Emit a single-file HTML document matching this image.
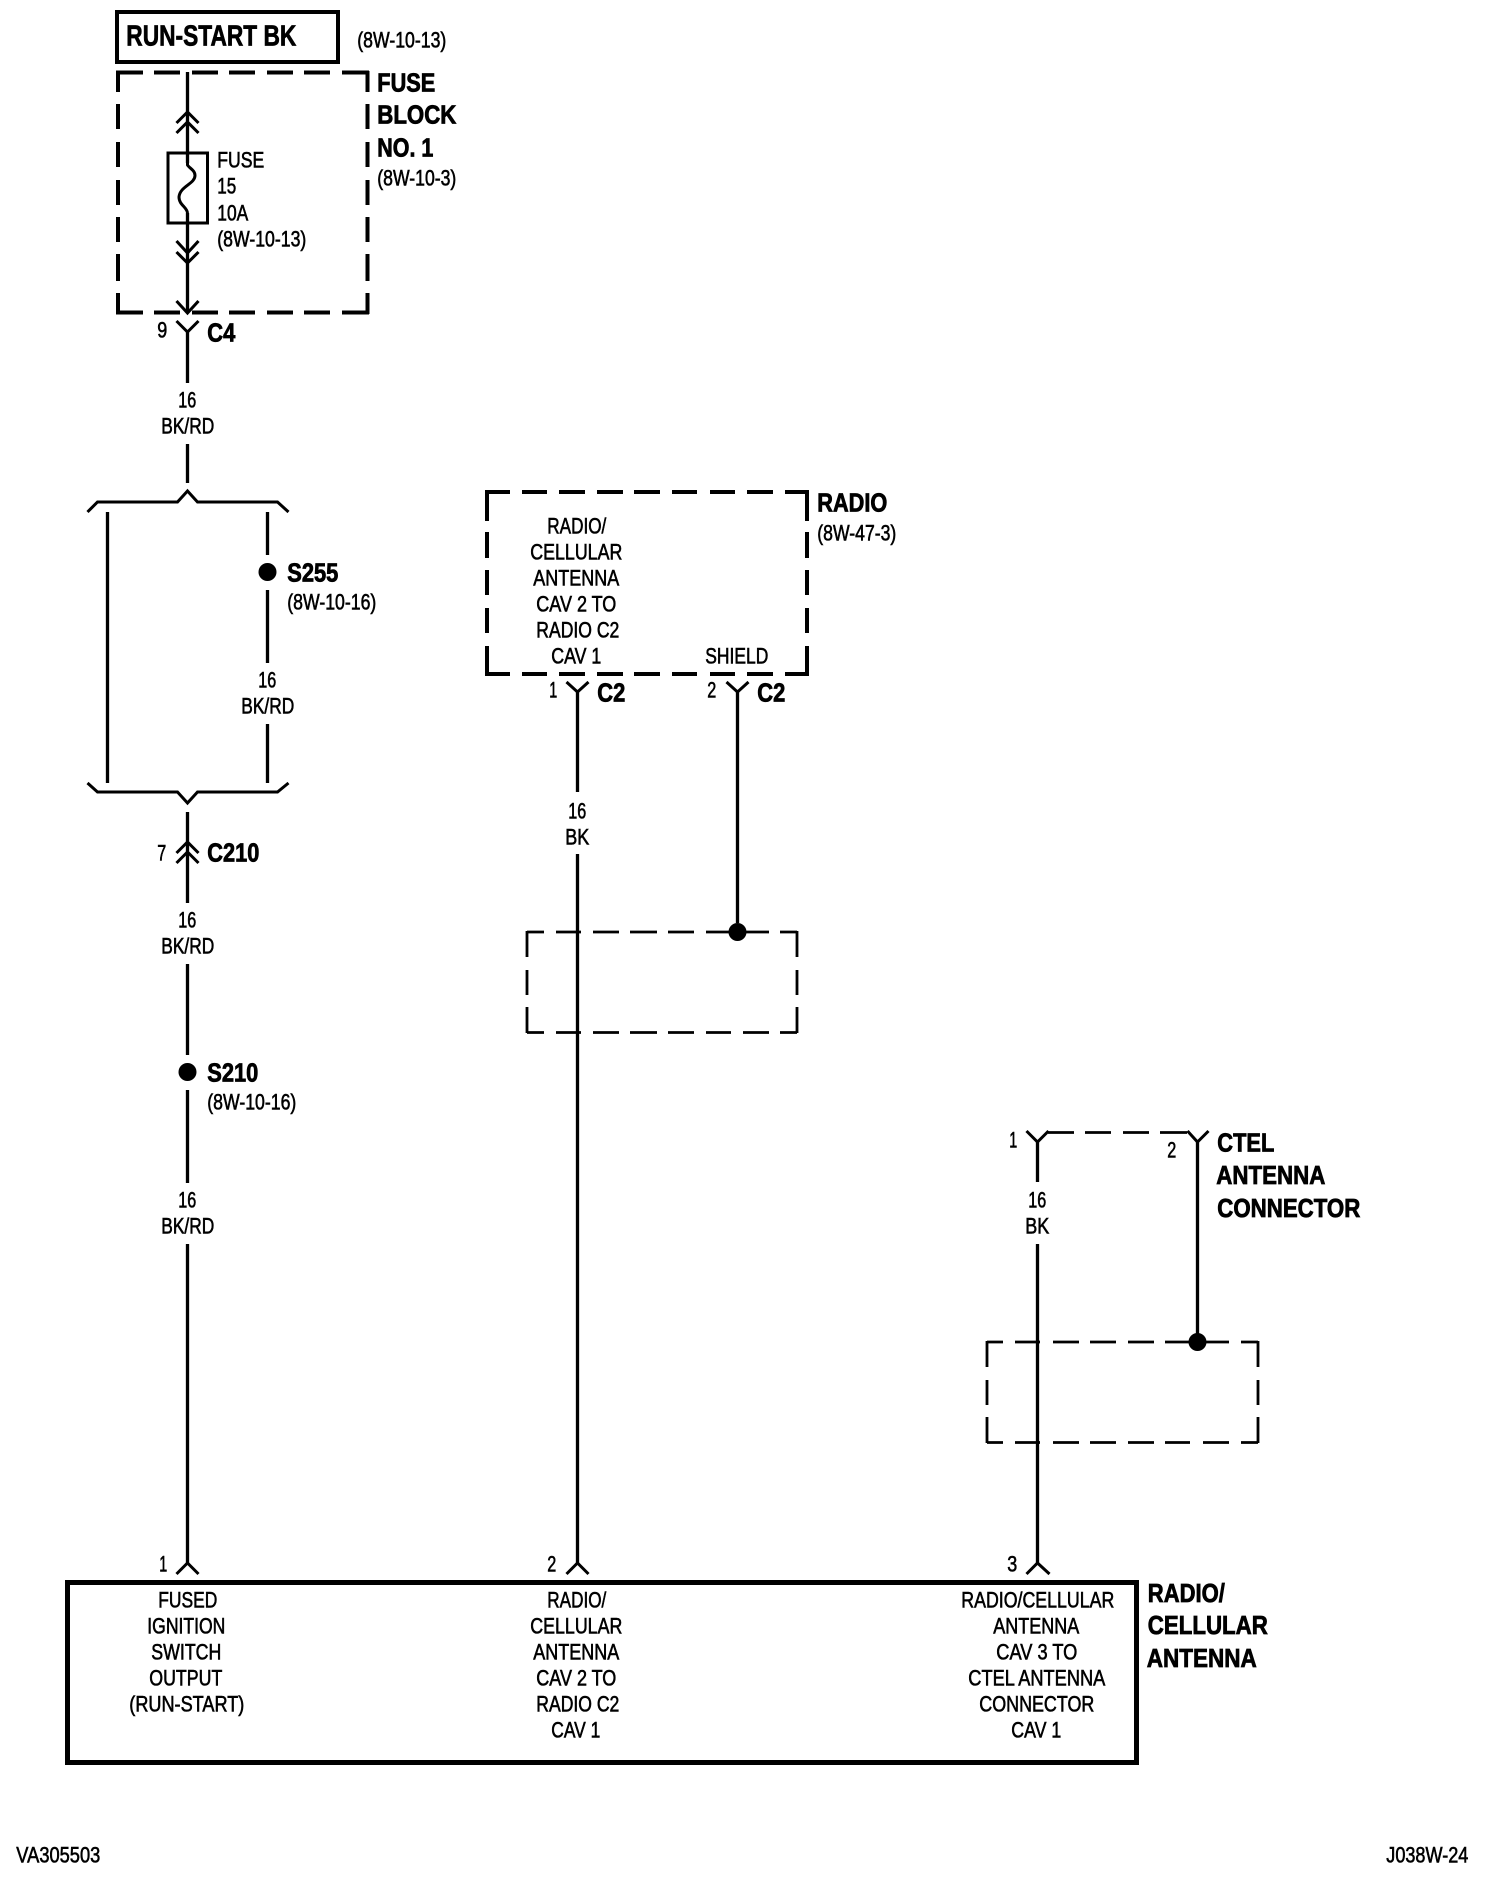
<!DOCTYPE html>
<html><head><meta charset="utf-8"><style>
html,body{margin:0;padding:0;background:#fff}
svg{display:block}
text{font-family:"Liberation Sans",sans-serif;fill:#000}
.r{font-size:22px;stroke:#000;stroke-width:.6}
.b{font-size:26px;font-weight:700;stroke:#000;stroke-width:.8}
.h{font-size:29px;font-weight:700;stroke:#000;stroke-width:.7}
.w{fill:none;stroke:#000;stroke-width:3.3}
.c{fill:none;stroke:#000;stroke-width:3}
.d{fill:none;stroke:#000;stroke-width:4}
.t{fill:none;stroke:#000;stroke-width:2.8}
</style></head><body>
<svg width="1504" height="1878" viewBox="0 0 1504 1878" xmlns="http://www.w3.org/2000/svg">
<rect width="1504" height="1878" fill="#fff"/>
<rect x="117" y="12" width="221" height="50" class="d"/>
<rect x="67.5" y="1582.5" width="1069" height="180" fill="none" stroke="#000" stroke-width="5"/>

<!-- fuse block dashed -->
<path class="d" d="M116 72.5H143M154 72.5H180M192 72.5H218M229 72.5H255M267 72.5H293M304 72.5H330M342 72.5H369
M116 312.5H143M154 312.5H180M192 312.5H218M229 312.5H255M267 312.5H293M304 312.5H330M342 312.5H369
M118 71V92M118 104V129M118 142V167M118 180V205M118 217V242M118 254V281M118 293V314
M367.5 71V92M367.5 104V129M367.5 142V167M367.5 180V205M367.5 217V242M367.5 254V281M367.5 293V314"/>
<!-- radio dashed -->
<path class="d" d="M485 492H510M522 492H547M559 492H585M597 492H623M634 492H660M672 492H697M710 492H735M747 492H773M785 492H809
M485 674H510M522 674H547M559 674H585M597 674H623M634 674H660M672 674H697M710 674H735M747 674H773M785 674H809
M487 490V521M487 532V558M487 570V595M487 608V633M487 646V676
M807 490V521M807 532V558M807 570V595M807 608V633M807 646V676"/>
<!-- shield boxes -->
<path class="t" d="M527 932H544M556 932H581M593 932H619M630 932H657M668 932H694M706 932H731M743 932H769M780 932H797
M527 1032.5H544M556 1032.5H581M593 1032.5H619M630 1032.5H657M668 1032.5H694M706 1032.5H731M743 1032.5H769M780 1032.5H797
M527 931V957M527 970V995M527 1007V1033M797 931V957M797 970V995M797 1007V1033"/>
<path class="t" d="M987 1342H1003M1015 1342H1040M1053 1342H1079M1090 1342H1116M1128 1342H1154M1165 1342H1190M1203 1342H1229M1241 1342H1258
M987 1442.5H1003M1015 1442.5H1040M1053 1442.5H1079M1090 1442.5H1116M1128 1442.5H1154M1165 1442.5H1190M1203 1442.5H1229M1241 1442.5H1258
M987 1341V1367M987 1380V1405M987 1417V1443M1258 1341V1367M1258 1380V1405M1258 1417V1443"/>
<path class="t" d="M1048 1132.5H1074M1085 1132.5H1111M1123 1132.5H1149M1160 1132.5H1187"/>

<g transform="translate(.5,0)">
<!-- wires -->
<path class="w" d="M187 72V163M187 213V313M187 332V383M187 444V483M187 812V903M187 964V1055M187 1090V1183M187 1244V1563
M107 512V783M267 512V555M267 590V663M267 724V783
M577 692V792M577 854V1563M737 692V923
M1037 1142V1182M1037 1244V1563M1197 1142V1342"/>
<circle cx="267" cy="572" r="9"/><circle cx="187" cy="1072" r="9"/><circle cx="737" cy="932" r="9"/><circle cx="1197" cy="1342" r="9"/>

<!-- chevrons -->
<path class="c" d="M176 123L187 112L198 123M176 133L187 122L198 133
M176 241L187 253L198 241M176 252L187 263L198 252
M176 301L187 313L198 301M176 321L187 332L198 321
M176 853L187 842L198 853M176 863L187 852L198 863
M176 1574L187 1563L198 1574M566 1574L577 1563L588 1574M1026 1574L1037 1563L1049 1574
M566 682L577 692L588 682M726 682L737 692L748 682
M1026 1131L1037 1142L1048 1131M1187 1131L1197 1142L1208 1131
M87 512L97 502H177L187 491L197 502H277L288 512
M87 783L97 792H177L187 803L197 792H277L288 783"/>
</g>
<!-- fuse -->
<rect x="168" y="153" width="39.5" height="70" class="c"/>
<path class="c" d="M187.5 163V165C189 168 195 170 195 175.500C195 184 180 186 179 197C179 205 187 207 187.500 213"/>

<!-- text -->
<g transform="translate(-.7,-.5)">
<text class="h" x="127" y="46" textLength="170" lengthAdjust="spacingAndGlyphs">RUN-START BK</text>
<text class="r" x="358" y="48" textLength="89" lengthAdjust="spacingAndGlyphs">(8W-10-13)</text>
<text class="b" x="378" y="92" textLength="58" lengthAdjust="spacingAndGlyphs">FUSE</text>
<text class="b" x="378" y="124" textLength="79" lengthAdjust="spacingAndGlyphs">BLOCK</text>
<text class="b" x="378" y="157" textLength="56" lengthAdjust="spacingAndGlyphs">NO. 1</text>
<text class="r" x="378" y="186" textLength="79" lengthAdjust="spacingAndGlyphs">(8W-10-3)</text>
<text class="r" x="218" y="168" textLength="47" lengthAdjust="spacingAndGlyphs">FUSE</text>
<text class="r" x="218" y="194" textLength="19" lengthAdjust="spacingAndGlyphs">15</text>
<text class="r" x="218" y="221" textLength="31" lengthAdjust="spacingAndGlyphs">10A</text>
<text class="r" x="218" y="247" textLength="89" lengthAdjust="spacingAndGlyphs">(8W-10-13)</text>
<text class="r" x="158" y="338" textLength="10" lengthAdjust="spacingAndGlyphs">9</text>
<text class="b" x="208" y="342" textLength="28" lengthAdjust="spacingAndGlyphs">C4</text>
<text class="r" x="179" y="408" textLength="18" lengthAdjust="spacingAndGlyphs">16</text>
<text class="r" x="162" y="434" textLength="53" lengthAdjust="spacingAndGlyphs">BK/RD</text>
<text class="b" x="288" y="582" textLength="51" lengthAdjust="spacingAndGlyphs">S255</text>
<text class="r" x="288" y="610" textLength="89" lengthAdjust="spacingAndGlyphs">(8W-10-16)</text>
<text class="r" x="259" y="688" textLength="18" lengthAdjust="spacingAndGlyphs">16</text>
<text class="r" x="242" y="714" textLength="53" lengthAdjust="spacingAndGlyphs">BK/RD</text>
<text class="r" x="158" y="861" textLength="9" lengthAdjust="spacingAndGlyphs">7</text>
<text class="b" x="208" y="862" textLength="52" lengthAdjust="spacingAndGlyphs">C210</text>
<text class="r" x="179" y="928" textLength="18" lengthAdjust="spacingAndGlyphs">16</text>
<text class="r" x="162" y="954" textLength="53" lengthAdjust="spacingAndGlyphs">BK/RD</text>
<text class="b" x="208" y="1082" textLength="51" lengthAdjust="spacingAndGlyphs">S210</text>
<text class="r" x="208" y="1110" textLength="89" lengthAdjust="spacingAndGlyphs">(8W-10-16)</text>
<text class="r" x="179" y="1208" textLength="18" lengthAdjust="spacingAndGlyphs">16</text>
<text class="r" x="162" y="1234" textLength="53" lengthAdjust="spacingAndGlyphs">BK/RD</text>

<text class="r" x="548" y="534" textLength="59" lengthAdjust="spacingAndGlyphs">RADIO/</text>
<text class="r" x="531" y="560" textLength="92" lengthAdjust="spacingAndGlyphs">CELLULAR</text>
<text class="r" x="534" y="586" textLength="86" lengthAdjust="spacingAndGlyphs">ANTENNA</text>
<text class="r" x="537" y="612" textLength="80" lengthAdjust="spacingAndGlyphs">CAV 2 TO</text>
<text class="r" x="537" y="638" textLength="83" lengthAdjust="spacingAndGlyphs">RADIO C2</text>
<text class="r" x="552" y="664" textLength="50" lengthAdjust="spacingAndGlyphs">CAV 1</text>
<text class="r" x="706" y="664" textLength="63" lengthAdjust="spacingAndGlyphs">SHIELD</text>
<text class="b" x="818" y="512" textLength="70" lengthAdjust="spacingAndGlyphs">RADIO</text>
<text class="r" x="818" y="541" textLength="79" lengthAdjust="spacingAndGlyphs">(8W-47-3)</text>
<text class="r" x="550" y="698" textLength="8" lengthAdjust="spacingAndGlyphs">1</text>
<text class="b" x="598" y="702" textLength="28" lengthAdjust="spacingAndGlyphs">C2</text>
<text class="r" x="708" y="698" textLength="9" lengthAdjust="spacingAndGlyphs">2</text>
<text class="b" x="758" y="702" textLength="28" lengthAdjust="spacingAndGlyphs">C2</text>
<text class="r" x="569" y="819" textLength="18" lengthAdjust="spacingAndGlyphs">16</text>
<text class="r" x="566" y="845" textLength="24" lengthAdjust="spacingAndGlyphs">BK</text>

<text class="r" x="1010" y="1148" textLength="8" lengthAdjust="spacingAndGlyphs">1</text>
<text class="r" x="1168" y="1158" textLength="9" lengthAdjust="spacingAndGlyphs">2</text>
<text class="b" x="1218" y="1152" textLength="57" lengthAdjust="spacingAndGlyphs">CTEL</text>
<text class="b" x="1217" y="1184.500" textLength="109" lengthAdjust="spacingAndGlyphs">ANTENNA</text>
<text class="b" x="1218" y="1217.500" textLength="143" lengthAdjust="spacingAndGlyphs">CONNECTOR</text>
<text class="r" x="1029" y="1208" textLength="18" lengthAdjust="spacingAndGlyphs">16</text>
<text class="r" x="1026" y="1234" textLength="24" lengthAdjust="spacingAndGlyphs">BK</text>

<text class="r" x="160" y="1572" textLength="8" lengthAdjust="spacingAndGlyphs">1</text>
<text class="r" x="548" y="1572" textLength="9" lengthAdjust="spacingAndGlyphs">2</text>
<text class="r" x="1008" y="1572" textLength="10" lengthAdjust="spacingAndGlyphs">3</text>

<text class="r" x="159" y="1608" textLength="59" lengthAdjust="spacingAndGlyphs">FUSED</text>
<text class="r" x="148" y="1634" textLength="78" lengthAdjust="spacingAndGlyphs">IGNITION</text>
<text class="r" x="152" y="1660" textLength="70" lengthAdjust="spacingAndGlyphs">SWITCH</text>
<text class="r" x="150" y="1686" textLength="73" lengthAdjust="spacingAndGlyphs">OUTPUT</text>
<text class="r" x="130" y="1712" textLength="115" lengthAdjust="spacingAndGlyphs">(RUN-START)</text>

<text class="r" x="548" y="1608" textLength="59" lengthAdjust="spacingAndGlyphs">RADIO/</text>
<text class="r" x="531" y="1634" textLength="92" lengthAdjust="spacingAndGlyphs">CELLULAR</text>
<text class="r" x="534" y="1660" textLength="86" lengthAdjust="spacingAndGlyphs">ANTENNA</text>
<text class="r" x="537" y="1686" textLength="80" lengthAdjust="spacingAndGlyphs">CAV 2 TO</text>
<text class="r" x="537" y="1712" textLength="83" lengthAdjust="spacingAndGlyphs">RADIO C2</text>
<text class="r" x="552" y="1738" textLength="49" lengthAdjust="spacingAndGlyphs">CAV 1</text>

<text class="r" x="962" y="1608" textLength="153" lengthAdjust="spacingAndGlyphs">RADIO/CELLULAR</text>
<text class="r" x="994" y="1634" textLength="86" lengthAdjust="spacingAndGlyphs">ANTENNA</text>
<text class="r" x="997" y="1660" textLength="81" lengthAdjust="spacingAndGlyphs">CAV 3 TO</text>
<text class="r" x="969" y="1686" textLength="137" lengthAdjust="spacingAndGlyphs">CTEL ANTENNA</text>
<text class="r" x="980" y="1712" textLength="115" lengthAdjust="spacingAndGlyphs">CONNECTOR</text>
<text class="r" x="1012" y="1738" textLength="50" lengthAdjust="spacingAndGlyphs">CAV 1</text>

<text class="b" x="1148.500" y="1602.500" textLength="77" lengthAdjust="spacingAndGlyphs">RADIO/</text>
<text class="b" x="1148.500" y="1634.500" textLength="120" lengthAdjust="spacingAndGlyphs">CELLULAR</text>
<text class="b" x="1147.500" y="1667.500" textLength="110" lengthAdjust="spacingAndGlyphs">ANTENNA</text>

<text class="r" x="17" y="1863" textLength="84" lengthAdjust="spacingAndGlyphs">VA305503</text>
<text class="r" x="1387" y="1863" textLength="82" lengthAdjust="spacingAndGlyphs">J038W-24</text>
</g>
</svg>
</body></html>
